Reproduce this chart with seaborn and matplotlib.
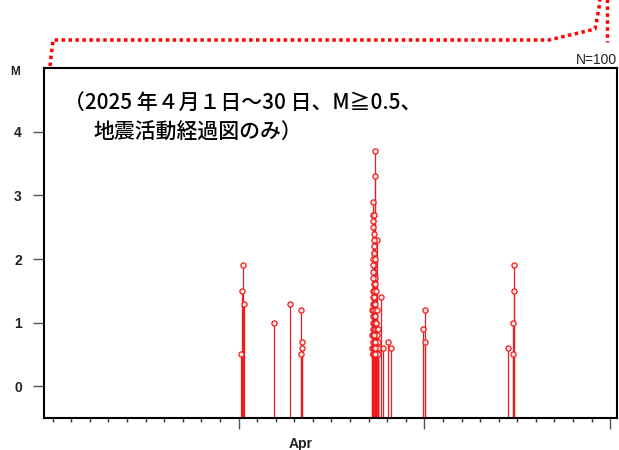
import matplotlib
matplotlib.use("Agg")
import matplotlib.pyplot as plt
import seaborn as sns
import pandas as pd
from matplotlib.lines import Line2D
from matplotlib.ticker import FixedLocator

# Event times (days from 1 Apr) and magnitudes, outside the main swarm
event_days = [0.13, 0.19, 0.24, 0.30, 1.91, 2.77, 3.35, 3.36, 3.42, 3.44,
              7.67, 7.78, 8.05, 8.21, 9.91, 10.02, 10.05,
              14.50, 14.77, 14.78, 14.80, 14.83]
event_mags = [0.5, 1.5, 1.9, 1.3, 1.0, 1.3, 1.2, 0.5, 0.7, 0.6,
              1.4, 0.6, 0.7, 0.6, 0.9, 1.2, 0.7,
              0.6, 1.0, 0.5, 1.5, 1.9]

# Main swarm around day 7
swarm_days = [7.35, 7.36, 7.25, 7.24, 7.27, 7.26, 7.25, 7.28, 7.46, 7.30,
              7.29, 7.27, 7.31, 7.24, 7.33, 7.28, 7.22, 7.30, 7.26, 7.32,
              7.23, 7.29, 7.34, 7.21, 7.27, 7.38, 7.25, 7.31, 7.22, 7.28,
              7.35, 7.20, 7.26, 7.33, 7.24, 7.30, 7.37, 7.21, 7.27, 7.32,
              7.41, 7.23, 7.29, 7.36, 7.44, 7.20, 7.25, 7.31, 7.39, 7.47,
              7.22, 7.28, 7.34, 7.40, 7.45, 7.50, 7.19, 7.24, 7.30, 7.36,
              7.42, 7.48, 7.52, 7.21, 7.26, 7.32, 7.38, 7.43, 7.49, 7.23,
              7.29, 7.35, 7.51, 7.44, 7.33, 7.40, 7.27, 7.37]
swarm_mags = [3.7, 3.3, 2.9, 2.7, 2.7, 2.6, 2.5, 2.4, 2.3, 2.3,
              2.2, 2.1, 2.1, 2.0, 2.0, 1.9, 1.9, 1.8, 1.8, 1.7,
              1.7, 1.6, 1.6, 1.5, 1.5, 1.5, 1.4, 1.4, 1.3, 1.3,
              1.3, 1.2, 1.2, 1.2, 1.1, 1.1, 1.1, 1.0, 1.0, 1.0,
              1.0, 0.9, 0.9, 0.9, 0.9, 0.8, 0.8, 0.8, 0.8, 0.8,
              0.7, 0.7, 0.7, 0.7, 0.7, 0.7, 0.6, 0.6, 0.6, 0.6,
              0.6, 0.6, 0.6, 0.5, 0.5, 0.5, 0.5, 0.5, 0.5, 0.5,
              0.5, 0.5, 0.9, 1.2, 0.6, 1.0, 0.8, 0.7]

y_ticks = [0, 1, 2, 3, 4]
day_ticks_major = [0, 10, 20]
day_ticks_minor = list(range(-10, 21))
month_label = "Apr"
month_label_day = 3.36
count_label = "N=100"
note_line1 = "（2025 年４月１日～30 日、M≧0.5、"
note_line2 = "地震活動経過図のみ）"

df = pd.DataFrame({"day": event_days + swarm_days,
                   "mag": event_mags + swarm_mags})

RED = "#ee1c1c"
W, H = 619, 450

sns.set_theme(style="ticks")
plt.rcParams["font.family"] = ["Liberation Sans", "DejaVu Sans"]

fig = plt.figure(figsize=(W / 100, H / 100), dpi=100)
ax = fig.add_axes([44 / W, 32 / H, 572.5 / W, 349.7 / H])

ymin = -0.5
ax.vlines(df["day"], ymin, df["mag"], color=RED, lw=0.9, zorder=2)
sns.scatterplot(data=df, x="day", y="mag", ax=ax, marker="o", s=14,
                facecolor="#fde4e4", edgecolor=RED, linewidth=0.9,
                zorder=3, legend=False)

ax.set_xlim(-10.47, 20.34)
ax.set_ylim(ymin, 5)
ax.set_xlabel("")
ax.set_ylabel("")
ax.set_yticks(y_ticks)
ax.set_yticklabels([str(v) for v in y_ticks], fontsize=10, fontweight="bold",
                   color="#222")
ax.set_xticks(day_ticks_major)
ax.xaxis.set_minor_locator(FixedLocator(day_ticks_minor))
ax.tick_params(axis="y", direction="out", length=8, width=1, color="#555", pad=8)
ax.tick_params(axis="x", which="major", direction="out", length=8, width=1,
               color="#555", labelbottom=False)
ax.tick_params(axis="x", which="minor", direction="out", length=3, width=1,
               color="#333")
for sp in ax.spines.values():
    sp.set_visible(True)
    sp.set_linewidth(1.5)
    sp.set_color("black")

# month label under the time axis
ax.text(month_label_day, -0.055, month_label, transform=ax.get_xaxis_transform(),
        ha="center", va="top", fontsize=10, fontweight="bold", color="#222")

# axis caption and event count
fig.text(15 / W, 1 - 72 / H, "M", ha="center", va="center", fontsize=8.5,
         fontweight="bold", color="#222")
fig.text(617 / W, 1 - 60 / H, count_label, ha="right", va="center",
         fontsize=10, color="#222")

# note on the plotted period
cjk = ["Noto Sans CJK JP", "DejaVu Sans"]
fig.text(64 / W, 1 - 103 / H, note_line1, ha="left", va="center",
         fontsize=15, family=cjk, fontweight="medium", color="black")
fig.text(93 / W, 1 - 133 / H, note_line2, ha="left", va="center",
         fontsize=15, family=cjk, fontweight="medium", color="black")

# red dotted bracket above the frame
def px(points):
    return [p[0] / W for p in points], [1 - p[1] / H for p in points]

bracket_left = [(50, 66), (53, 40), (549, 40), (595, 29), (599, 8), (600, -2)]
bracket_right = [(607, -2), (607, 42)]
for pts in (bracket_left, bracket_right):
    xs, ys = px(pts)
    fig.add_artist(Line2D(xs, ys, transform=fig.transFigure, color="red",
                          lw=2.5, linestyle=(0, (1.0, 1.0)),
                          solid_capstyle="butt", dash_capstyle="butt"))

fig.savefig("out.png", dpi=100)
